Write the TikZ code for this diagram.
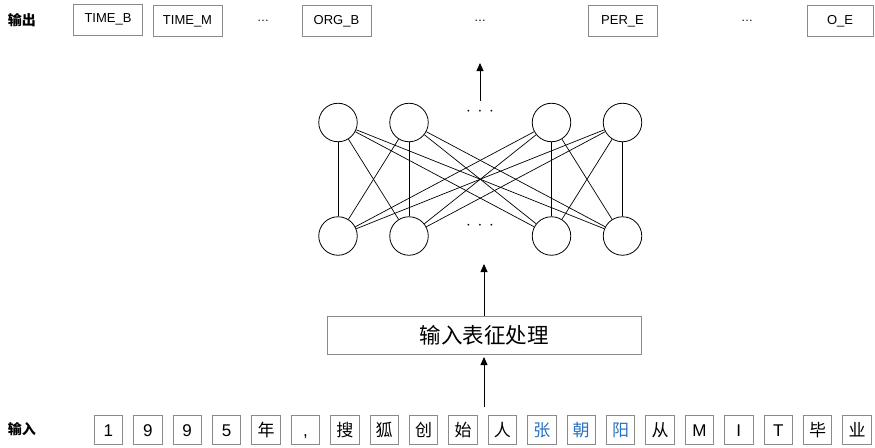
\documentclass[tikz,border=0pt]{standalone}
\usepackage{fontspec}
\setmainfont{Liberation Sans}
\newfontfamily\cjk{Noto Sans CJK SC}
\usetikzlibrary{arrows.meta}
\definecolor{boxgray}{HTML}{8A8A8A}
\definecolor{tokblue}{HTML}{2A72C2}
\begin{document}
\begin{tikzpicture}[x=1pt,y=-1pt,
  outbox/.style={draw=boxgray,line width=0.8pt,minimum width=69pt,minimum height=31pt,inner sep=0pt,font=\fontsize{13}{13}\selectfont},
  tok/.style={draw=boxgray,line width=0.8pt,minimum width=28.5pt,minimum height=29pt,inner sep=0pt,text height=14pt,text depth=1.8pt,font=\fontsize{17}{17}\selectfont},
  neuron/.style={draw,circle,line width=0.8pt,minimum size=38.5pt,inner sep=0pt},
  edge/.style={line width=0.7pt},
  arr/.style={line width=0.8pt,-{Triangle[length=8pt,width=7pt]}},
  lab/.style={font=\cjk\bfseries\fontsize{14}{14}\selectfont},
  dots/.style={font=\fontsize{12}{12}\selectfont},
  ndots/.style={font=\fontsize{17}{17}\selectfont}
]
\useasboundingbox (0,0) rectangle (875,447);
% output row
\node[lab] (outlab) at (22,20) {输出};
\node[outbox] (o1) at (108,19.5) {TIME\_B};
\node[outbox] (o2) at (187.5,21) {TIME\_M};
\node[dots] (od1) at (263,21) {\ldots};
\node[outbox] (o3) at (336.5,21) {ORG\_B};
\node[dots] (od2) at (480,21) {\ldots};
\node[outbox] (o4) at (622.5,21) {PER\_E};
\node[dots] (od3) at (747,21) {\ldots};
\node[outbox,minimum width=66pt] (o5) at (840,21) {O\_E};
% network
\foreach \i/\x in {1/338,2/409,3/551.5,4/622.5}{
  \node[neuron] (t\i) at (\x,122.5) {};
  \node[neuron] (b\i) at (\x,236) {};
}
\foreach \i in {1,...,4}{
  \foreach \j in {1,...,4}{
    \draw[edge] (t\i) -- (b\j);
  }
}
\node[ndots] (tdots) at (480,112) {$\cdot\,\cdot\,\cdot$};
\node[ndots] (bdots) at (480,226) {$\cdot\,\cdot\,\cdot$};
\coordinate (netout) at (480,101);
\coordinate (outtip) at (480,63);
\draw[arr] (netout) -- (outtip);
% processing box
\node[draw=boxgray,line width=0.8pt,minimum width=314pt,minimum height=38pt,inner sep=0pt,font=\cjk\fontsize{21.5}{21.5}\selectfont] (proc) at (484,335) {输入表征处理};
\coordinate (netin) at (484,264);
\draw[arr] (proc.north) -- (netin);
\coordinate (tokstart) at (484,407);
\coordinate (proctip) at (484,357);
\draw[arr] (tokstart) -- (proctip);
% input row
\node[lab] (inlab) at (22,429) {输入};
\foreach [count=\k] \t/\c in {1/black,9/black,9/black,5/black,{\cjk 年}/black,{,}/black,{\cjk 搜}/black,{\cjk 狐}/black,{\cjk 创}/black,{\cjk 始}/black,{\cjk 人}/black,{\cjk 张}/tokblue,{\cjk 朝}/tokblue,{\cjk 阳}/tokblue,{\cjk 从}/black,M/black,I/black,T/black,{\cjk 毕}/black,{\cjk 业}/black}{
  \node[tok,text=\c] (in\k) at ({108.4+(\k-1)*39.4},430) {\t};
}
\end{tikzpicture}
\end{document}
